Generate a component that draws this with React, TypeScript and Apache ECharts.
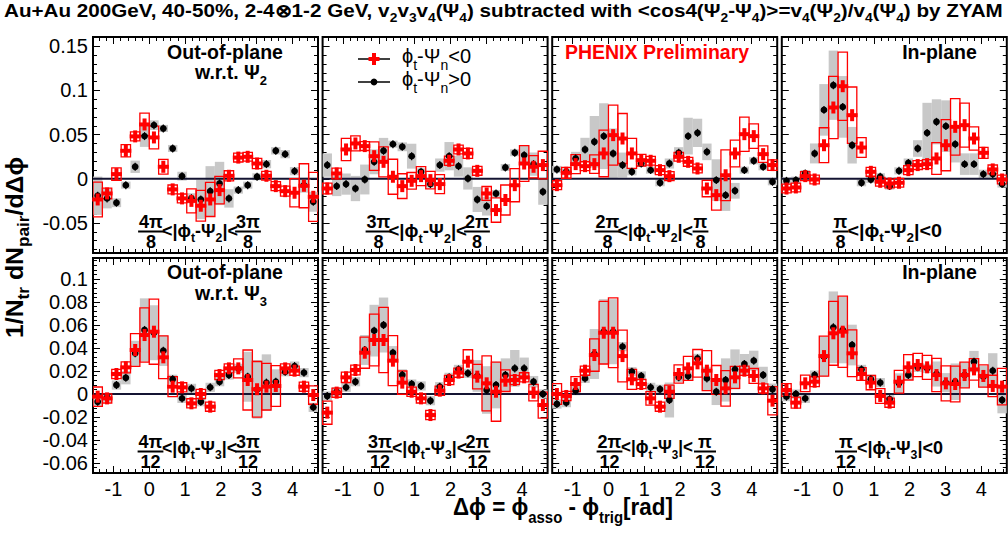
import React, { useEffect, useRef } from "react";
import * as echarts from "echarts";

// ---------- binning / axes ----------
const BIN_CENTERS = [-1.440, -1.178, -0.916, -0.654, -0.393, -0.131, 0.131, 0.393, 0.654, 0.916, 1.178, 1.440, 1.702, 1.963, 2.225, 2.487, 2.749, 3.011, 3.272, 3.534, 3.796, 4.058, 4.320, 4.581];
const BIN_WIDTH = 0.2618;
const X_MIN = -1.5708;
const X_MAX = 4.7124;
const X_TICK_LABELS = [-1, 0, 1, 2, 3, 4];
const Y_TICKS_TOP = [-0.05, 0, 0.05, 0.1, 0.15];
const Y_TICKS_BOTTOM = [-0.06, -0.04, -0.02, 0, 0.02, 0.04, 0.06, 0.08, 0.1];
const Y_RANGE_TOP = [-0.084, 0.1605];
const Y_RANGE_BOTTOM = [-0.0687, 0.1183];
const STAT_ERR_TOP = 0.0045;
const STAT_ERR_BOTTOM = 0.0035;

// ---------- data: red = phi_t-Psi_n<0, black = phi_t-Psi_n>0 ----------
// Panel 1: 4pi/8<|phi_t-Psi_2|<3pi/8
const P1_RED = [-0.0234, -0.0166, 0.0053, 0.0317, 0.048, 0.0615, 0.0468, 0.0136, -0.012, -0.0222, -0.025, -0.0305, -0.0234, -0.0128, 0.0034, 0.024, 0.0249, 0.0173, 0.0034, -0.0083, -0.014, -0.0158, -0.0079, -0.0204];
const P1_RED_SYS = [0.0196, 0.006, 0.007, 0.007, 0.005, 0.0128, 0.0129, 0.0083, 0.005, 0.005, 0.0136, 0.0175, 0.0193, 0.0155, 0.0057, 0.005, 0.005, 0.0057, 0.005, 0.005, 0.0057, 0.016, 0.0249, 0.0277];
const P1_BLK = [-0.0192, -0.0222, -0.0271, -0.0072, 0.0136, 0.0483, 0.0607, 0.057, 0.0343, 0.003, -0.022, -0.0234, -0.014, -0.0053, -0.0222, -0.0128, -0.0072, 0.0023, 0.0166, 0.0317, 0.0279, 0.0087, -0.0072, -0.026];
const P1_BLK_SYS = [0.0217, 0.0113, 0.005, 0.004, 0.007, 0.0122, 0.0055, 0.004, 0.004, 0.005, 0.0057, 0.0222, 0.0283, 0.0245, 0.0104, 0.004, 0.004, 0.004, 0.0047, 0.0042, 0.0047, 0.0047, 0.0085, 0.0113];
// Panel 2: 3pi/8<|phi_t-Psi_2|<2pi/8
const P2_RED = [-0.011, 0.006, 0.0332, 0.04, 0.037, 0.0256, 0.0192, 0.0023, -0.0083, -0.0023, 0.003, -0.0015, -0.006, 0.0204, 0.0332, 0.0287, 0.009, -0.0166, -0.0354, -0.024, -0.0072, 0.0173, 0.0136, 0.0155];
const P2_RED_SYS = [0.006, 0.006, 0.0126, 0.0085, 0.005, 0.0161, 0.017, 0.0198, 0.014, 0.0094, 0.0108, 0.01, 0.0107, 0.0053, 0.005, 0.0057, 0.005, 0.0079, 0.0138, 0.017, 0.0188, 0.0202, 0.0126, 0.0157];
const P2_BLK = [0.0155, -0.0083, -0.006, -0.011, -0.0008, 0.0192, 0.0317, 0.0392, 0.0362, 0.0256, 0.0079, -0.006, 0.0155, 0.0256, 0.0143, 0.0004, -0.0234, -0.031, -0.0166, 0.0128, 0.0294, 0.0268, 0.0166, -0.0147];
const P2_BLK_SYS = [0.0132, 0.0113, 0.012, 0.0143, 0.0169, 0.0141, 0.0146, 0.004, 0.005, 0.0141, 0.004, 0.004, 0.0075, 0.016, 0.0119, 0.0126, 0.0142, 0.0106, 0.004, 0.004, 0.004, 0.0113, 0.0132, 0.0147];
// Panel 3: 2pi/8<|phi_t-Psi_2|<pi/8
const P3_RED = [-0.0072, 0.0068, 0.0166, 0.0143, 0.0166, 0.0287, 0.0494, 0.0456, 0.0287, 0.0211, 0.0204, 0.0098, 0.003, 0.0249, 0.0192, 0.0117, -0.011, -0.0185, 0.004, 0.0287, 0.0505, 0.0483, 0.0279, 0.0155];
const P3_RED_SYS = [0.005, 0.0062, 0.0107, 0.005, 0.0104, 0.0264, 0.0339, 0.0283, 0.017, 0.0066, 0.005, 0.005, 0.005, 0.005, 0.005, 0.005, 0.0093, 0.017, 0.0287, 0.0151, 0.0194, 0.0138, 0.0094, 0.006];
const P3_BLK = [0.0106, 0.0079, 0.023, 0.0332, 0.0419, 0.0483, 0.0287, 0.0155, 0.0079, 0.0173, 0.0098, -0.0045, 0.0173, 0.0294, 0.0483, 0.052, 0.0305, -0.0015, -0.0185, -0.0136, 0.0098, 0.0204, 0.0136, -0.0034];
const P3_BLK_SYS = [0.004, 0.004, 0.0075, 0.0132, 0.0292, 0.0372, 0.0283, 0.0142, 0.004, 0.004, 0.004, 0.004, 0.0057, 0.0064, 0.0208, 0.016, 0.0094, 0.0236, 0.0179, 0.0089, 0.004, 0.004, 0.004, 0.004];
// Panel 4: pi/8<|phi_t-Psi_2|<0
const P4_RED = [-0.011, -0.0098, 0.003, -0.0008, 0.038, 0.0807, 0.1048, 0.072, 0.0354, 0.0079, -0.0034, -0.0053, -0.0045, 0.0098, 0.0155, 0.0166, 0.023, 0.038, 0.0588, 0.0607, 0.0456, 0.0294, 0.0106, -0.0008];
const P4_RED_SYS = [0.005, 0.005, 0.005, 0.005, 0.0198, 0.0352, 0.0386, 0.0319, 0.0112, 0.005, 0.005, 0.005, 0.005, 0.005, 0.005, 0.005, 0.018, 0.0289, 0.032, 0.0249, 0.0132, 0.0062, 0.005, 0.005];
const P4_BLK = [-0.0023, -0.0015, 0.006, 0.0287, 0.078, 0.1059, 0.0814, 0.038, -0.0045, -0.0008, 0.0023, -0.0083, 0.009, 0.018, 0.0343, 0.052, 0.0645, 0.0596, 0.0392, 0.0166, 0.0166, 0.0053, 0.0053, -0.006];
const P4_BLK_SYS = [0.004, 0.004, 0.004, 0.0113, 0.0292, 0.0392, 0.0349, 0.0207, 0.004, 0.004, 0.004, 0.004, 0.004, 0.005, 0.0094, 0.034, 0.0255, 0.0292, 0.0207, 0.0122, 0.0122, 0.005, 0.005, 0.004];
// Panel 5: 4pi/12<|phi_t-Psi_3|<3pi/12
const P5_RED = [-0.0023, -0.0038, 0.0174, 0.0232, 0.0383, 0.0513, 0.0542, 0.0319, 0.0064, 0.0058, -0.0081, 0, -0.011, 0.0165, 0.0223, 0.0223, 0.0122, 0.0041, 0.0064, 0.007, 0.0223, 0.0203, 0.0064, -0.0009];
const P5_RED_SYS = [0.0084, 0.004, 0.004, 0.0048, 0.0142, 0.0236, 0.0283, 0.0186, 0.0087, 0.004, 0.004, 0.004, 0.004, 0.004, 0.004, 0.0083, 0.0261, 0.0242, 0.0203, 0.0177, 0.004, 0.004, 0.004, 0.008];
const P5_BLK = [-0.0067, -0.003, 0.0078, 0.0142, 0.0354, 0.0557, 0.0533, 0.0377, 0.0128, -0.0038, 0.0049, -0.0067, 0.0058, 0.0107, 0.0165, 0.0223, 0.015, 0.004, 0.0099, 0.0107, 0.0194, 0.0243, 0.0186, -0.0116];
const P5_BLK_SYS = [0.004, 0.004, 0.004, 0.0058, 0.0109, 0.0275, 0.0239, 0.0133, 0.004, 0.004, 0.004, 0.004, 0.004, 0.004, 0.004, 0.004, 0.0217, 0.0255, 0.0246, 0.0108, 0.004, 0.004, 0.004, 0.004];
// Panel 6: 3pi/12<|phi_t-Psi_3|<2pi/12
const P6_RED = [-0.0162, 0.0012, 0.0145, 0.0209, 0.0359, 0.047, 0.047, 0.029, 0.0099, 0.002, -0.0038, -0.0183, 0.0029, 0.0122, 0.0186, 0.0281, 0.0151, 0.0093, 0.002, 0.0116, 0.0122, 0.0145, 0.0012, -0.0096];
const P6_RED_SYS = [0.0101, 0.004, 0.0045, 0.0043, 0.0135, 0.0225, 0.0284, 0.0217, 0.0101, 0.004, 0.004, 0.004, 0.004, 0.004, 0.004, 0.0104, 0.0106, 0.0239, 0.0257, 0.0094, 0.004, 0.004, 0.0072, 0.0113];
const P6_BLK = [-0.0017, 0.002, 0.0058, 0.0107, 0.0383, 0.0551, 0.06, 0.0359, 0.0165, 0.0087, 0.007, -0.0058, 0.0064, 0.0145, 0.0214, 0.018, 0.0157, 0.0035, 0.0078, 0.0165, 0.0223, 0.0223, 0.0107, 0];
const P6_BLK_SYS = [0.004, 0.004, 0.004, 0.004, 0.013, 0.0225, 0.0239, 0.0058, 0.005, 0.004, 0.004, 0.004, 0.004, 0.004, 0.004, 0.004, 0.0138, 0.0207, 0.0203, 0.0145, 0.0159, 0.0094, 0.005, 0.004];
// Panel 7: 2pi/12<|phi_t-Psi_3|<pi/12
const P7_RED = [0, -0.0017, 0.0087, 0.0203, 0.0339, 0.0533, 0.0533, 0.033, 0.0128, 0.0087, -0.0038, -0.011, 0.002, 0.0174, 0.0223, 0.0267, 0.0203, 0.0122, 0.0049, 0.0145, 0.0203, 0.0157, 0.0049, -0.0058];
const P7_RED_SYS = [0.009, 0.004, 0.0065, 0.004, 0.0141, 0.0272, 0.0304, 0.0225, 0.0087, 0.004, 0.0058, 0.004, 0.0058, 0.008, 0.0104, 0.012, 0.0174, 0.0126, 0.0155, 0.0096, 0.004, 0.0065, 0.004, 0.0123];
const P7_BLK = [-0.0087, -0.0075, 0.0029, 0.0136, 0.0348, 0.0542, 0.0542, 0.0412, 0.0194, 0.0157, 0.0058, 0.0041, -0.0052, 0.0145, 0.0157, 0.031, 0.0136, 0.002, 0.0122, 0.0214, 0.0261, 0.029, 0.0165, 0.0041];
const P7_BLK_SYS = [0.004, 0.004, 0.004, 0.004, 0.0217, 0.0283, 0.0283, 0.004, 0.004, 0.004, 0.004, 0.004, 0.0152, 0.004, 0.004, 0.004, 0.0101, 0.0116, 0.0188, 0.0174, 0.0087, 0.0087, 0.0072, 0.005];
// Panel 8: pi/12<|phi_t-Psi_3|<0
const P8_RED = [0.0035, -0.0075, 0.0093, 0.0107, 0.033, 0.0528, 0.0542, 0.0354, 0.0174, 0.0099, -0.0017, -0.0075, 0.0107, 0.0232, 0.0252, 0.0232, 0.0165, 0.0093, 0.0087, 0.0165, 0.0214, 0.0157, 0.007, 0.0064];
const P8_RED_SYS = [0.0055, 0.0048, 0.0072, 0.0043, 0.0174, 0.0278, 0.031, 0.0203, 0.0055, 0.0062, 0.0064, 0.004, 0.0099, 0.011, 0.0101, 0.0104, 0.0145, 0.0152, 0.0156, 0.0112, 0.0094, 0.0097, 0.0093, 0.0159];
const P8_BLK = [-0.0023, 0, -0.0038, 0.0165, 0.0325, 0.058, 0.0557, 0.0426, 0.0214, 0.0128, 0.0099, -0.0046, 0.0093, 0.0165, 0.0232, 0.0223, 0.0174, 0.0099, 0.0107, 0.0165, 0.0281, 0.0151, 0.0203, -0.0052];
const P8_BLK_SYS = [0.004, 0.004, 0.004, 0.004, 0.0174, 0.0312, 0.029, 0.0177, 0.004, 0.004, 0.004, 0.004, 0.0087, 0.004, 0.004, 0.004, 0.0109, 0.0083, 0.0159, 0.0109, 0.0094, 0.0094, 0.0152, 0.0116];

const PANELS = [
  { red: P1_RED, redSys: P1_RED_SYS, blk: P1_BLK, blkSys: P1_BLK_SYS },
  { red: P2_RED, redSys: P2_RED_SYS, blk: P2_BLK, blkSys: P2_BLK_SYS },
  { red: P3_RED, redSys: P3_RED_SYS, blk: P3_BLK, blkSys: P3_BLK_SYS },
  { red: P4_RED, redSys: P4_RED_SYS, blk: P4_BLK, blkSys: P4_BLK_SYS },
  { red: P5_RED, redSys: P5_RED_SYS, blk: P5_BLK, blkSys: P5_BLK_SYS },
  { red: P6_RED, redSys: P6_RED_SYS, blk: P6_BLK, blkSys: P6_BLK_SYS },
  { red: P7_RED, redSys: P7_RED_SYS, blk: P7_BLK, blkSys: P7_BLK_SYS },
  { red: P8_RED, redSys: P8_RED_SYS, blk: P8_BLK, blkSys: P8_BLK_SYS },
];

// ---------- layout ----------
const GRID_LEFTS = [93, 322.6, 552.2, 781.8];
const GRID_W = 225;
const ROW_TOPS = [37, 258];
const ROW_H = [216, 215];
const FONT = "Liberation Sans, Arial, Helvetica, sans-serif";
const RED = "#ff0000";
const GRAY = "#c8c8c8";

function range(from: number, to: number, step: number) {
  const out: number[] = [];
  const n = Math.round((to - from) / step);
  for (let k = 0; k <= n; k++) out.push(+(from + k * step).toFixed(4));
  return out;
}
const X_MINOR = range(-1.4, 4.6, 0.2);
const Y_MINOR_TOP = range(-0.08, 0.16, 0.01);
const Y_MINOR_BOTTOM = range(-0.068, 0.116, 0.004);

type Part = [string, boolean];

let measureCtx: CanvasRenderingContext2D | null = null;
function measure(parts: Part[], F: number, bold: boolean, S?: number) {
  if (!measureCtx) measureCtx = document.createElement("canvas").getContext("2d");
  const s = S ?? Math.round(F * 0.68);
  let w = 0;
  for (const [t, sub] of parts) {
    measureCtx!.font = `${bold ? "bold " : ""}${sub ? s : F}px ${FONT}`;
    w += measureCtx!.measureText(t).width;
  }
  return w;
}

function richStyle(parts: Part[], F: number, bold: boolean, color: string, S?: number) {
  const s = S ?? Math.round(F * 0.68);
  const p0 = Math.round(F * 0.93 - s / 2);
  const fw = bold ? "bold" : "normal";
  return {
    text: parts.map(([t, sub]) => `{${sub ? "s" : "m"}|${t}}`).join(""),
    rich: {
      m: { fontSize: F, lineHeight: F, fontWeight: fw, fontFamily: FONT, fill: color, verticalAlign: "top" },
      s: { fontSize: s, lineHeight: s, fontWeight: fw, fontFamily: FONT, fill: color, verticalAlign: "top", padding: [p0, 0, 0, 0] },
    },
  };
}

// text whose main line is vertically centred at yMid
function label(x: number, yMid: number, parts: Part[], F: number, o: any = {}) {
  const bold = o.bold !== false;
  const color = o.color || "#000";
  const align = o.align || "left";
  let scaleX = 1;
  if (o.width) scaleX = o.width / measure(parts, F, bold, o.sub);
  return {
    type: "text",
    x,
    y: yMid - F / 2,
    scaleX,
    z: 100,
    silent: true,
    style: { ...richStyle(parts, F, bold, color, o.sub), align, verticalAlign: "top", fill: color },
  };
}

function fraction(cx: number, num: string, den: string, yNum: number, yBar: number, yDen: number, F: number) {
  const w = Math.max(measure([[num, false]], F, true), measure([[den, false]], F, true)) + 2;
  return [
    label(cx, yNum, [[num, false]], F, { align: "center" }),
    { type: "line", z: 100, silent: true, shape: { x1: cx - w / 2, y1: yBar, x2: cx + w / 2, y2: yBar }, style: { stroke: "#000", lineWidth: 2 } },
    label(cx, yDen, [[den, false]], F, { align: "center" }),
  ];
}

function buildGraphics() {
  const g: any[] = [];
  // Title
  const TITLE: Part[] = [
    ["Au+Au 200GeV, 40-50%, 2-4\u22971-2 GeV, v", false], ["2", true], ["v", false], ["3", true], ["v", false], ["4", true],
    ["(\u03a8", false], ["4", true], [") subtracted with <cos4(\u03a8", false], ["2", true], ["-\u03a8", false], ["4", true],
    [")>=v", false], ["4", true], ["(\u03a8", false], ["2", true], [")/v", false], ["4", true], ["(\u03a8", false], ["4", true], [") by ZYAM", false],
  ];
  g.push(label(4, 10, TITLE, 18, { width: 999 }));

  // Y title (rotated)
  const YT: Part[] = [["1/N", false], ["tr", true], [" dN", false], ["pair", true], ["/d\u0394\u03d5", false]];
  const yF = 23;
  const ytw = measure(YT, yF, true);
  g.push({
    type: "text", x: 14.5 - yF / 2, y: 247.5, rotation: Math.PI / 2, scaleX: 181 / ytw, z: 100, silent: true,
    style: { ...richStyle(YT, yF, true, "#000"), align: "center", verticalAlign: "top", fill: "#000" },
  });

  // X title
  const XT: Part[] = [["\u0394\u03d5 = \u03d5", false], ["asso", true], [" - \u03d5", false], ["trig", true], ["[rad]", false]];
  g.push(label(453, 507, XT, 24, { width: 220 }));

  // Panel annotations
  const AF = 19.5;
  g.push(label(225, 51.5, [["Out-of-plane", false]], AF, { align: "center" }));
  g.push(label(231, 71.5, [["w.r.t. \u03a8", false], ["2", true]], AF, { align: "center" }));
  g.push(label(939.5, 51.5, [["In-plane", false]], AF, { align: "center" }));
  g.push(label(657, 51.5, [["PHENIX Preliminary", false]], AF, { align: "center", color: RED }));
  g.push(label(225, 271.5, [["Out-of-plane", false]], AF, { align: "center" }));
  g.push(label(231, 292.5, [["w.r.t. \u03a8", false], ["3", true]], AF, { align: "center" }));
  g.push(label(939.5, 271.5, [["In-plane", false]], AF, { align: "center" }));

  // Legend (in panel 2)
  g.push({ type: "line", z: 100, silent: true, shape: { x1: 358, y1: 59, x2: 390, y2: 59 }, style: { stroke: "#000", lineWidth: 1.5 } });
  g.push({ type: "rect", z: 101, silent: true, shape: { x: 368.5, y: 57, width: 11, height: 4 }, style: { fill: RED } });
  g.push({ type: "rect", z: 101, silent: true, shape: { x: 372, y: 53, width: 4, height: 12 }, style: { fill: RED } });
  g.push(label(402, 55.5, [["\u03d5", false], ["t", true], ["-\u03a8", false], ["n", true], ["<0", false]], 20, { bold: false }));
  g.push({ type: "line", z: 100, silent: true, shape: { x1: 358, y1: 82, x2: 390, y2: 82 }, style: { stroke: "#000", lineWidth: 1.5 } });
  g.push({ type: "circle", z: 101, silent: true, shape: { cx: 374, cy: 82, r: 3.4 }, style: { fill: "#000" } });
  g.push(label(402, 78.5, [["\u03d5", false], ["t", true], ["-\u03a8", false], ["n", true], [">0", false]], 20, { bold: false }));

  // Fractions
  const FF = 18;
  const midParts = (n: string, tail: string): Part[] => [["<|\u03d5", false], ["t", true], ["-\u03a8", false], [n, true], [tail, false]];
  const specs = [
    // [leftCx, leftNum, leftDen, mid0, mid1, rightCx, rightNum, rightDen, psi, tail, row]
    [151, "4\u03c0", "8", 162, 238, 248, "3\u03c0", "8", "2", "|<", 0],
    [378.5, "3\u03c0", "8", 388.5, 467, 477, "2\u03c0", "8", "2", "|<", 0],
    [607.5, "2\u03c0", "8", 617.5, 693, 700.5, "\u03c0", "8", "2", "|<", 0],
    [840.5, "\u03c0", "8", 847.5, 942, 0, "", "", "2", "|<0", 0],
    [150.5, "4\u03c0", "12", 162, 237, 248, "3\u03c0", "12", "3", "|<", 1],
    [380, "3\u03c0", "12", 392, 467, 477.5, "2\u03c0", "12", "3", "|<", 1],
    [609.5, "2\u03c0", "12", 621, 693, 705, "\u03c0", "12", "3", "|<", 1],
    [846, "\u03c0", "12", 857, 943, 0, "", "", "3", "|<0", 1],
  ] as any[];
  for (const s of specs) {
    const row = s[10];
    const yNum = row ? 441.5 : 221.5;
    const yBar = row ? 451.5 : 231.5;
    const yDen = row ? 461.5 : 241.5;
    const yMid = row ? 447 : 230;
    g.push(...fraction(s[0], s[1], s[2], yNum, yBar, yDen, FF));
    g.push(label(s[3], yMid, midParts(s[8], s[9]), FF + 1, { width: s[4] - s[3] }));
    if (s[6]) g.push(...fraction(s[5], s[6], s[7], yNum, yBar, yDen, FF));
  }
  return g;
}

function buildOption() {
  const grid: any[] = [];
  const xAxis: any[] = [];
  const yAxis: any[] = [];
  const series: any[] = [];

  PANELS.forEach((p, gi) => {
    const row = gi < 4 ? 0 : 1;
    const col = gi % 4;
    grid.push({
      left: GRID_LEFTS[col], top: ROW_TOPS[row], width: GRID_W, height: ROW_H[row],
      show: true, borderColor: "#000", borderWidth: 2, backgroundColor: "transparent",
    });
    const yr = row ? Y_RANGE_BOTTOM : Y_RANGE_TOP;
    const yMajor = row ? Y_TICKS_BOTTOM : Y_TICKS_TOP;
    const yMinor = row ? Y_MINOR_BOTTOM : Y_MINOR_TOP;
    const stat = row ? STAT_ERR_BOTTOM : STAT_ERR_TOP;
    const xi = xAxis.length;
    const yi = yAxis.length;
    for (const pos of ["bottom", "top"]) {
      for (const major of [true, false]) {
        xAxis.push({
          type: "value", gridIndex: gi, position: pos, min: X_MIN, max: X_MAX,
          axisLine: { show: false, onZero: false }, splitLine: { show: false },
          axisTick: { show: true, inside: true, length: major ? 7 : 4, customValues: major ? X_TICK_LABELS : X_MINOR, lineStyle: { color: "#000", width: 1 } },
          axisLabel: { show: pos === "bottom" && major && row === 1, customValues: X_TICK_LABELS, fontSize: 20, color: "#000", fontFamily: FONT, margin: 6 },
        });
      }
    }
    for (const pos of ["left", "right"]) {
      for (const major of [true, false]) {
        yAxis.push({
          type: "value", gridIndex: gi, position: pos, min: yr[0], max: yr[1],
          axisLine: { show: false, onZero: false }, splitLine: { show: false },
          axisTick: { show: true, inside: true, length: major ? 7 : 4, customValues: major ? yMajor : yMinor, lineStyle: { color: "#000", width: 1 } },
          axisLabel: { show: pos === "left" && major && col === 0, customValues: yMajor, fontSize: 20, color: "#000", fontFamily: FONT, margin: 5 },
        });
      }
    }
    const blkData = BIN_CENTERS.map((x, i) => [x, p.blk[i], p.blkSys[i]]);
    const redData = BIN_CENTERS.map((x, i) => [x, p.red[i], p.redSys[i]]);
    const boxRender = (stroke: boolean) => (params: any, api: any) => {
      const x = api.value(0), v = api.value(1), s = api.value(2);
      const a = api.coord([x - BIN_WIDTH / 2, v + s]);
      const b = api.coord([x + BIN_WIDTH / 2, v - s]);
      return {
        type: "rect",
        shape: { x: a[0], y: a[1], width: b[0] - a[0], height: b[1] - a[1] },
        style: stroke ? { fill: "none", stroke: RED, lineWidth: 1.3 } : { fill: GRAY },
      };
    };
    series.push({
      type: "custom", xAxisIndex: xi, yAxisIndex: yi, data: blkData, renderItem: boxRender(false),
      clip: true, silent: true, z: 1,
    });
    series.push({
      type: "line", xAxisIndex: xi, yAxisIndex: yi, data: [[X_MIN, 0], [X_MAX, 0]], showSymbol: false, symbol: "none",
      lineStyle: { color: "#141432", width: 2 }, silent: true, z: 2,
    });
    series.push({
      type: "custom", xAxisIndex: xi, yAxisIndex: yi, data: redData, renderItem: boxRender(true),
      clip: true, silent: true, z: 3,
    });
    series.push({
      type: "custom", xAxisIndex: xi, yAxisIndex: yi, data: blkData, silent: true, z: 4,
      renderItem: (params: any, api: any) => {
        const x = api.value(0), v = api.value(1);
        const c = api.coord([x, v]);
        const t = api.coord([x, v + stat])[1];
        const b = api.coord([x, v - stat])[1];
        return {
          type: "group",
          children: [
            { type: "line", shape: { x1: c[0], y1: t, x2: c[0], y2: b }, style: { stroke: "#000", lineWidth: 1.2 } },
            { type: "circle", shape: { cx: c[0], cy: c[1], r: 3.4 }, style: { fill: "#000" } },
          ],
        };
      },
    });
    series.push({
      type: "custom", xAxisIndex: xi, yAxisIndex: yi, data: redData, silent: true, z: 5,
      renderItem: (params: any, api: any) => {
        const c = api.coord([api.value(0), api.value(1)]);
        return {
          type: "group",
          children: [
            { type: "rect", shape: { x: c[0] - 5.5, y: c[1] - 2, width: 11, height: 4 }, style: { fill: RED } },
            { type: "rect", shape: { x: c[0] - 2, y: c[1] - 6, width: 4, height: 12 }, style: { fill: RED } },
          ],
        };
      },
    });
  });

  return {
    animation: false,
    backgroundColor: "#ffffff",
    textStyle: { fontFamily: FONT },
    grid, xAxis, yAxis, series,
    graphic: buildGraphics(),
  };
}

export default function App() {
  const ref = useRef<HTMLDivElement>(null);
  useEffect(() => {
    if (!ref.current) return;
    const chart = echarts.init(ref.current, undefined, { renderer: "svg" });
    chart.setOption(buildOption() as any);
    return () => chart.dispose();
  }, []);
  return <div ref={ref} style={{ position: "absolute", left: 0, top: 0, width: 1008, height: 533, background: "#fff" }} />;
}
